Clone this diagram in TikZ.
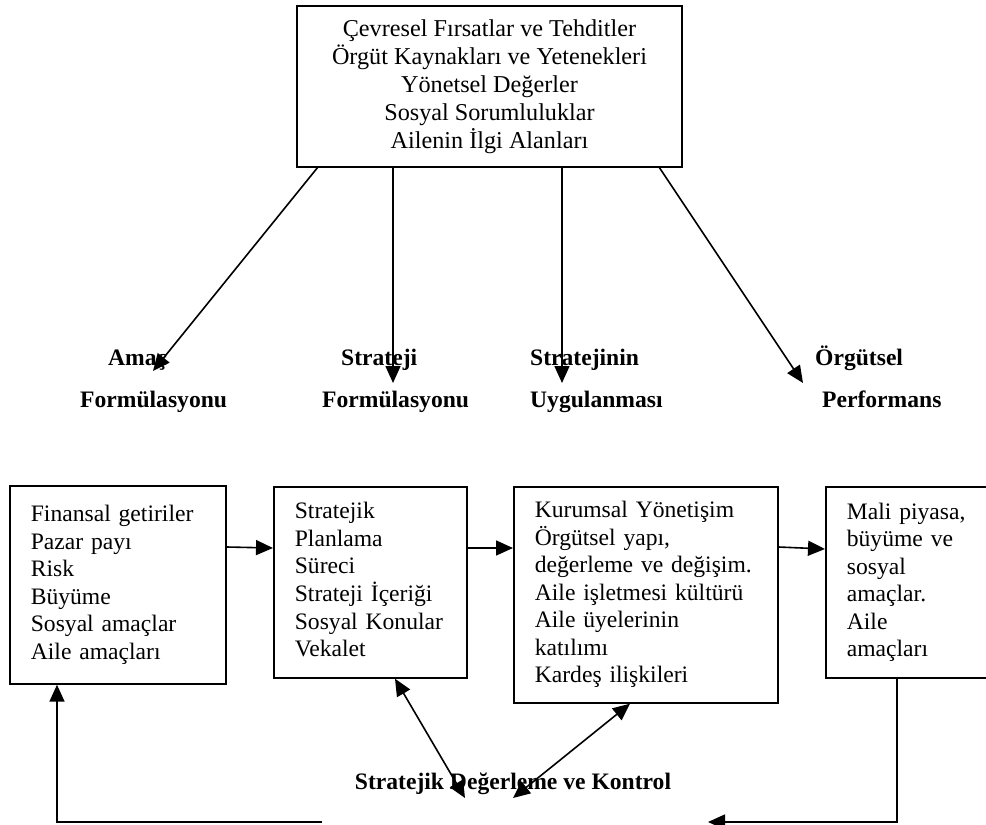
\documentclass[tikz,border=0pt]{standalone}
\usepackage{fontspec}
\setmainfont{Liberation Serif}
\usetikzlibrary{arrows.meta,calc}
\newcommand{\boxlines}[1]{\begin{tabular}{@{}l@{}}#1\end{tabular}}
\newcommand{\bodyfont}{\fontsize{23.6}{27.5}\selectfont}
\begin{document}
\begin{tikzpicture}[x=1pt,y=-1pt,
  box/.style={draw, line width=1.7pt, rectangle, inner xsep=21pt, inner ysep=0pt,
    align=left, anchor=north west, font=\bodyfont},
  lbl/.style={font=\fontsize{23.6}{27.5}\selectfont\bfseries, anchor=base west, inner sep=0pt},
  arr/.style={line width=1.6pt, -{Triangle[length=17pt,width=15pt]}},
  dbl/.style={line width=1.6pt, {Triangle[length=17pt,width=15pt]}-{Triangle[length=17pt,width=15pt]}},
  ln/.style={line width=1.6pt}]
\useasboundingbox (0,0) rectangle (986,825);

% top box
\node[draw, line width=1.7pt, minimum width=385pt, minimum height=161pt, align=center,
  font=\fontsize{24.2}{28}\selectfont, inner sep=0pt] (top) at (489.5,86.5)
  {Çevresel Fırsatlar ve Tehditler\\Örgüt Kaynakları ve Yetenekleri\\Yönetsel Değerler\\Sosyal Sorumluluklar\\Ailenin İlgi Alanları};

% labels
\node[lbl] (l1a) at (108,365) {Amaç};
\node[lbl] (l1b) at (80,407) {Formülasyonu};
\node[lbl] (l2a) at (341,365) {Strateji};
\node[lbl] (l2b) at (322,407) {Formülasyonu};
\node[lbl] (l3a) at (530,365) {Stratejinin};
\node[lbl] (l3b) at (530,407) {Uygulanması};
\node[lbl] (l4a) at (815,365) {Örgütsel};
\node[lbl] (l4b) at (822,407) {Performans};

% arrows from the top box
\coordinate (s1) at (318,167);
\coordinate (e1) at (153,371);
\coordinate (e2) at (393,383);
\coordinate (e3) at (562,383);
\coordinate (s4) at (659,167);
\coordinate (e4) at (803,383);
\draw[arr] (s1) -- (e1);
\draw[arr] (top.south -| e2) -- (e2);
\draw[arr] (top.south -| e3) -- (e3);
\draw[arr] (s4) -- (e4);

% bottom boxes
\node[box, text width=174pt, minimum height=198pt] (b1) at (9,485)
  {\boxlines{Finansal getiriler\\Pazar payı\\Risk\\Büyüme\\Sosyal amaçlar\\Aile amaçları}};
\node[box, text width=151pt, minimum height=191pt] (b2) at (273,486)
  {\boxlines{Stratejik\\Planlama\\Süreci\\Strateji İçeriği\\Sosyal Konular\\Vekalet}};
\node[box, text width=222pt, minimum height=216pt] (b3) at (513,486)
  {\boxlines{Kurumsal Yönetişim\\Örgütsel yapı,\\değerleme ve değişim.\\Aile işletmesi kültürü\\Aile üyelerinin\\katılımı\\Kardeş ilişkileri}};
\node[box, text width=150pt, minimum height=191pt] (b4) at (825,486)
  {\boxlines{Mali piyasa,\\büyüme ve\\sosyal\\amaçlar.\\Aile\\amaçları}};

% horizontal arrows
\draw[arr] ($(b1.north east)+(0,62)$) -- ($(b2.north west)+(0,62)$);
\draw[arr] ($(b2.north east)+(0,62)$) -- ($(b3.north west)+(0,62)$);
\draw[arr] ($(b3.north east)+(0,61)$) -- ($(b4.north west)+(0,63)$);

% evaluation label
\node[font=\fontsize{23.6}{27.5}\selectfont\bfseries, inner sep=0pt, anchor=base] (ev) at (513,789) {Stratejik Değerleme ve Kontrol};

% feedback lines
\coordinate (c1) at (57,822);
\coordinate (c2) at (322,822);
\coordinate (c3) at (897,822);
\coordinate (c4) at (708,822);
\draw[arr] (c2) -- (c1) -- (c1 |- b1.south);
\draw[arr] (b4.south -| c3) -- (c3) -- (c4);

% double arrows
\coordinate (d1) at (465,798);
\coordinate (d2) at (513,798);
\draw[dbl] ($(b2.south west)+(122,0)$) -- (d1);
\draw[dbl] ($(b3.south west)+(117,0)$) -- (d2);
\end{tikzpicture}
\end{document}
